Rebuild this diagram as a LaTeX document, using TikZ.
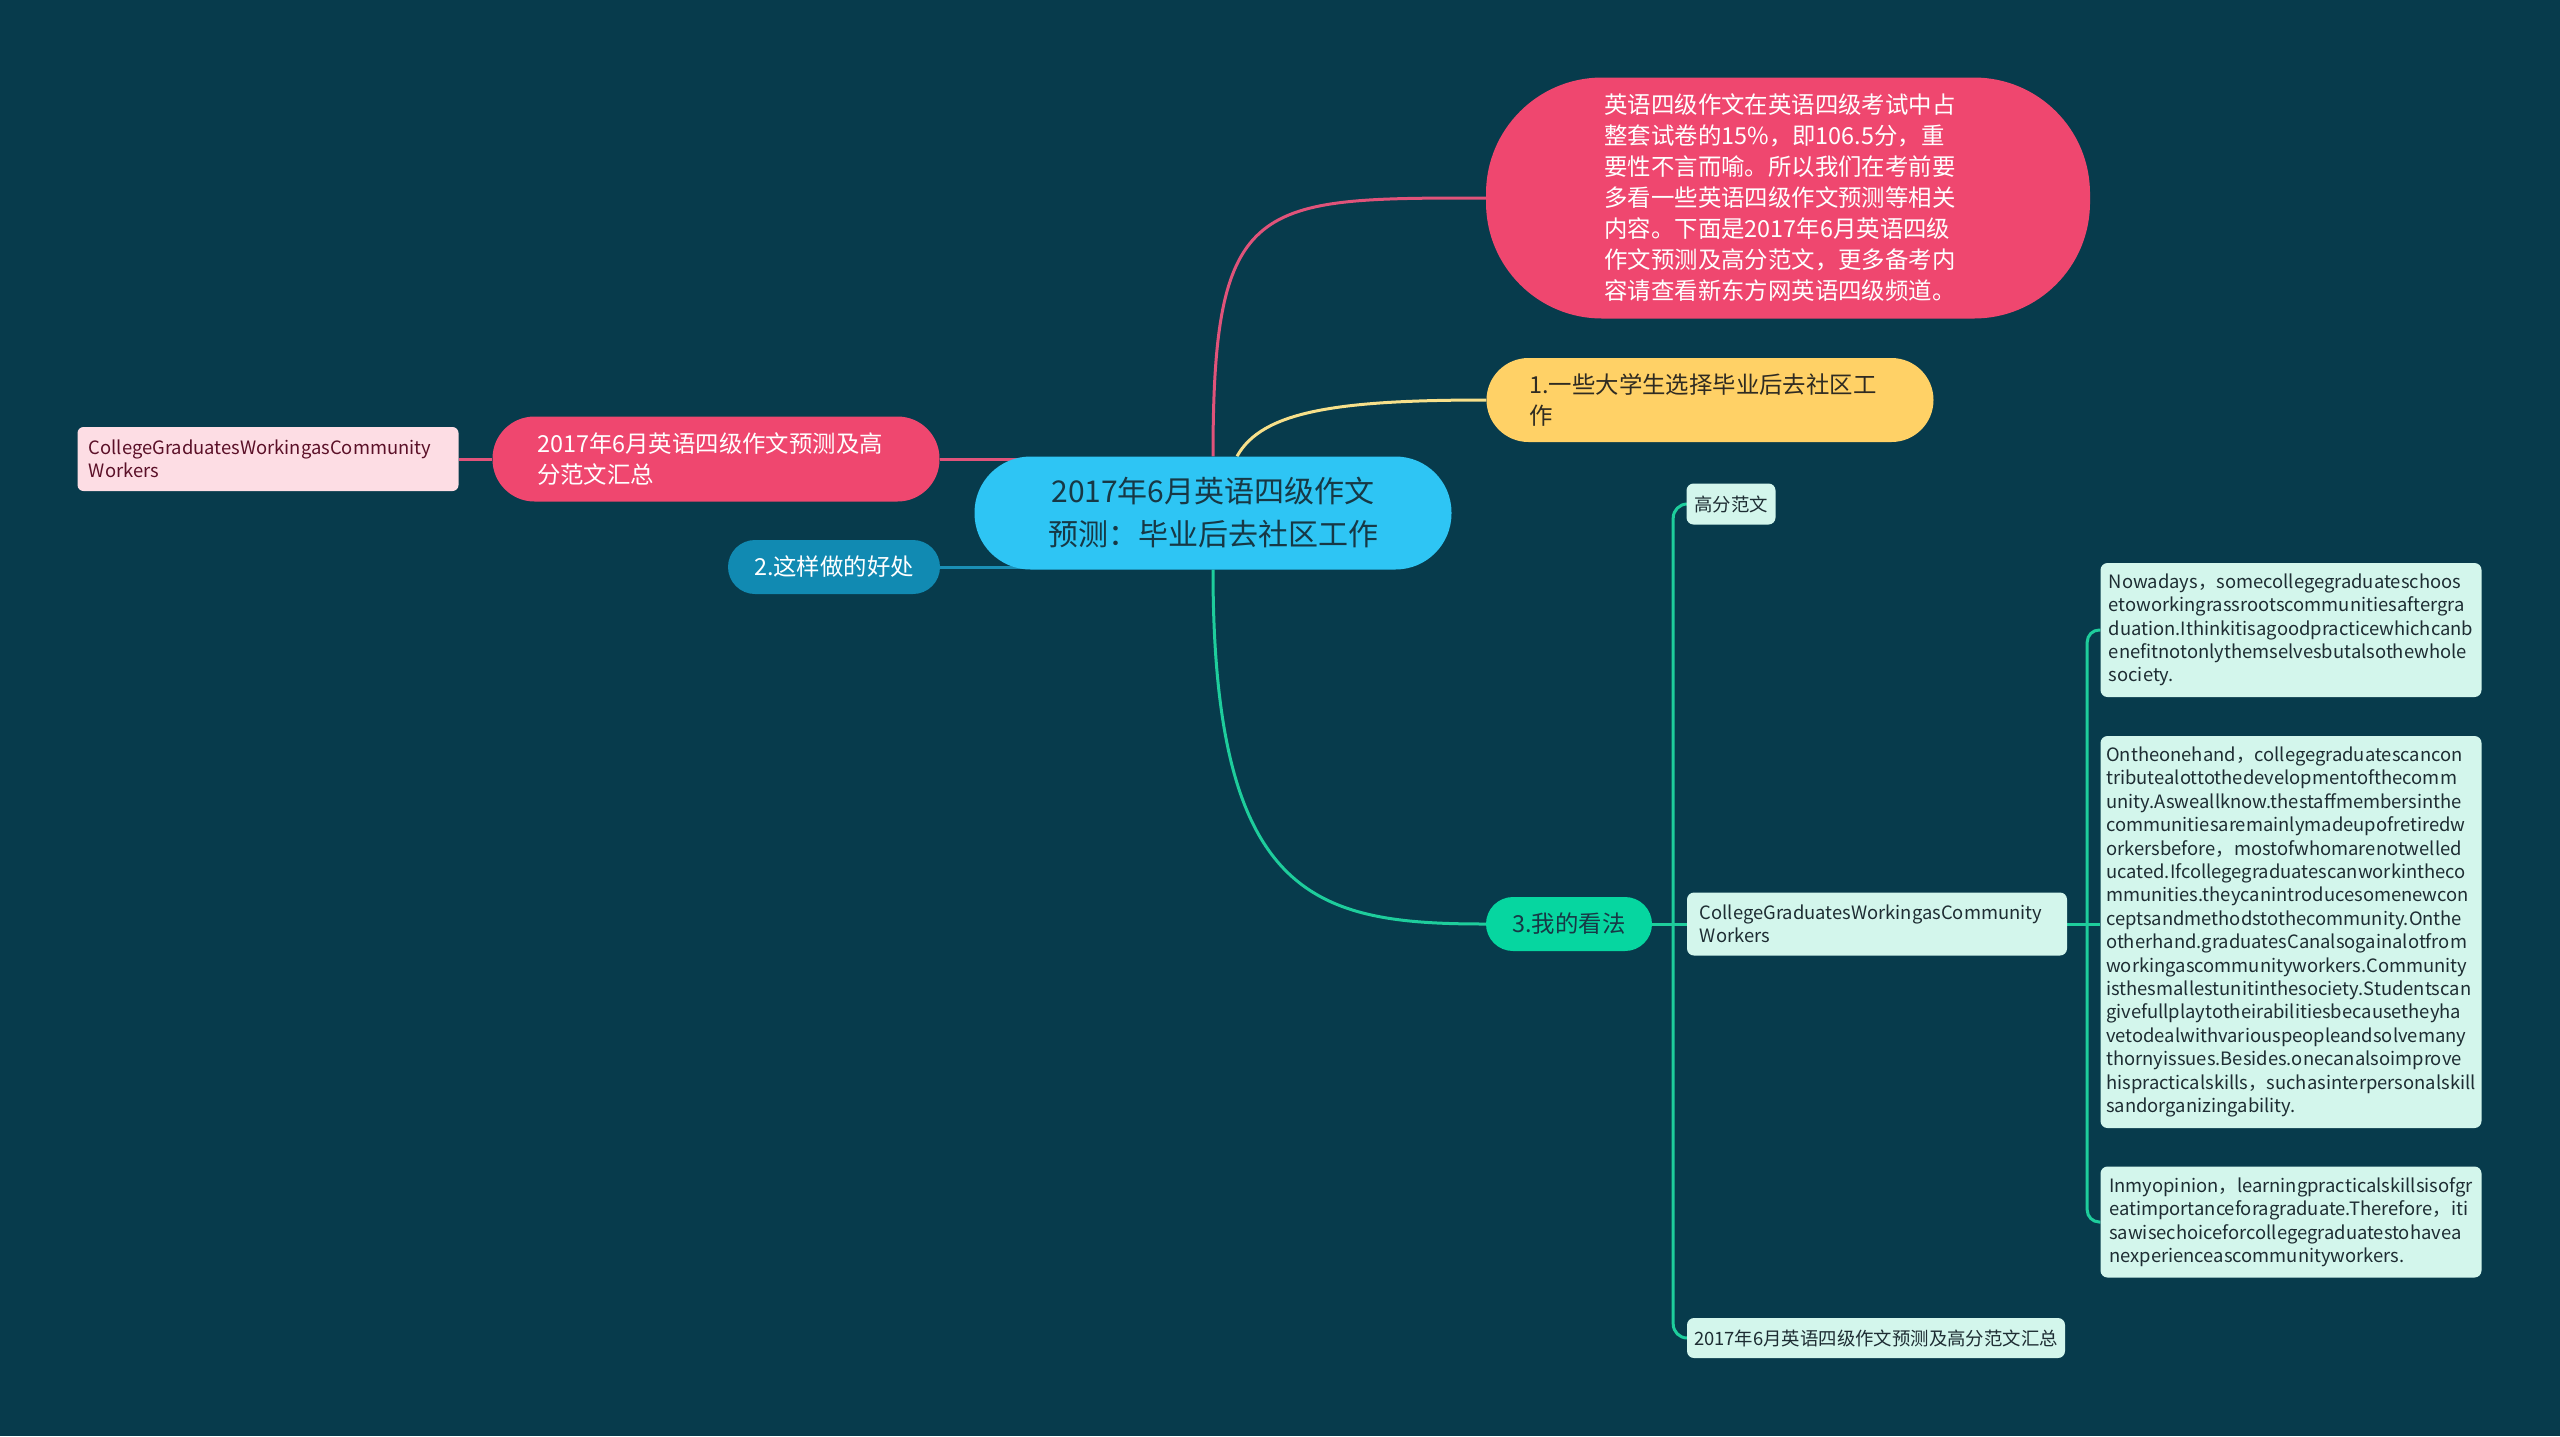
\documentclass[tikz,border=0pt]{standalone}
\usepackage{fontspec}
\newfontfamily\cjk{Noto Sans CJK SC}
\usetikzlibrary{backgrounds}
\definecolor{bg}{HTML}{073B4C}
\definecolor{pinkc}{HTML}{EF476F}
\definecolor{plinec}{HTML}{E0537A}
\definecolor{yellowc}{HTML}{FFD166}
\definecolor{ylinec}{HTML}{F7E08A}
\definecolor{greenc}{HTML}{06D6A0}
\definecolor{glinec}{HTML}{1ECD9C}
\definecolor{bluec}{HTML}{118AB2}
\definecolor{blinec}{HTML}{1A8FB5}
\definecolor{rootc}{HTML}{2EC5F4}
\definecolor{mint}{HTML}{D3F6EC}
\definecolor{lpinkc}{HTML}{FDDDE4}
\definecolor{roottext}{HTML}{173845}
\definecolor{darktext}{HTML}{1E2D33}
\definecolor{ytext}{HTML}{2F2B22}
\definecolor{lboxtext}{HTML}{5B1028}
\tikzset{
  box/.style={rectangle, inner sep=0pt, align=left, font=\cjk},
  bigfont/.style={font=\cjk\fontsize{23.4}{31}\selectfont},
  smallfont/.style={font=\cjk\fontsize{18.4}{23.4}\selectfont},
  rootbox/.style={box, fill=rootc, rounded corners=56, minimum width=477, minimum height=113, align=center, text=roottext, font=\cjk\fontsize{30}{43}\selectfont},
  pinkbox/.style={box, fill=pinkc, text=white, bigfont},
  mintbox/.style={box, fill=mint, rounded corners=7, text=darktext, smallfont},
  conn/.style={line width=3pt},
}
\begin{document}
\begin{tikzpicture}[x=1pt,y=-1pt]
\useasboundingbox (0,0) rectangle (2560,1436);
% nodes
\node[rootbox] (root) at (1213,513) {2017年6月英语四级作文\\预测：毕业后去社区工作};
\node[pinkbox, rounded corners=116, minimum width=604, minimum height=241] (intro) at (1788,198)
 {英语四级作文在英语四级考试中占\hspace*{16pt}\\整套试卷的15\%，即106.5分，重\\要性不言而喻。所以我们在考前要\\多看一些英语四级作文预测等相关\\内容。下面是2017年6月英语四级\\作文预测及高分范文，更多备考内\\容请查看新东方网英语四级频道。};
\node[box, bigfont, fill=yellowc, text=ytext, rounded corners=42, minimum width=447, minimum height=84] (yellow) at (1710,400)
 {1.一些大学生选择毕业后去社区工\hspace*{14pt}\\作};
\node[pinkbox, rounded corners=42, minimum width=447, minimum height=85] (lpink) at (716,459)
 {2017年6月英语四级作文预测及高\hspace*{12pt}\\分范文汇总};
\node[box, smallfont, fill=lpinkc, text=lboxtext, rounded corners=6, minimum width=381, minimum height=64] (lbox) at (268,459)
 {CollegeGraduatesWorkingasCommunity\hspace*{16pt}\\Workers};
\node[box, bigfont, fill=bluec, text=white, rounded corners=27, minimum width=212, minimum height=54, align=center] (blue) at (834,567)
 {2.这样做的好处};
\node[box, bigfont, fill=greenc, text=roottext, rounded corners=27, minimum width=166, minimum height=54, align=center] (green) at (1569,924)
 {3.我的看法};
\node[mintbox, minimum width=89, minimum height=41, align=center] (gaofen) at (1731,504) {高分范文};
\node[mintbox, minimum width=380, minimum height=63] (cg) at (1877,924)
 {CollegeGraduatesWorkingasCommunity\hspace*{12pt}\\Workers};
\node[mintbox, minimum width=378, minimum height=40, align=center] (huizong) at (1876,1338)
 {2017年6月英语四级作文预测及高分范文汇总};
\node[mintbox, minimum width=381, minimum height=134] (now) at (2291,630)
 {Nowadays，somecollegegraduateschoos\\etoworkingrassrootscommunitiesaftergra\\duation.Ithinkitisagoodpracticewhichcanb\\enefitnotonlythemselvesbutalsothewhole\\society.};
\node[mintbox, minimum width=381, minimum height=392] (onth) at (2291,932)
 {Ontheonehand，collegegraduatescancon\\tributealottothedevelopmentofthecomm\\unity.Asweallknow.thestaffmembersinthe\\communitiesaremainlymadeupofretiredw\\orkersbefore，mostofwhomarenotwelled\\ucated.Ifcollegegraduatescanworkintheco\\mmunities.theycanintroducesomenewcon\\ceptsandmethodstothecommunity.Onthe\\otherhand.graduatesCanalsogainalotfrom\\workingascommunityworkers.Community\\isthesmallestunitinthesociety.Studentscan\\givefullplaytotheirabilitiesbecausetheyha\\vetodealwithvariouspeopleandsolvemany\\thornyissues.Besides.onecanalsoimprove\\hispracticalskills，suchasinterpersonalskill\\sandorganizingability.};
\node[mintbox, minimum width=381, minimum height=111] (inmy) at (2291,1222)
 {Inmyopinion，learningpracticalskillsisofgr\\eatimportanceforagraduate.Therefore，iti\\sawisechoiceforcollegegraduatestohavea\\nexperienceascommunityworkers.};
\coordinate (gT) at ([xshift=21pt]green.east);
\coordinate (rT) at ([xshift=20pt]cg.east);
% background and connectors
\begin{scope}[on background layer]
\fill[bg] (0,0) rectangle (2560,1436);
\draw[conn, plinec] (root.north) .. controls +(0,-259) and +(-230,0) .. (intro.west);
\draw[conn, ylinec] ([xshift=24pt]root.north) .. controls +(25,-45) and +(-150,0) .. (yellow.west);
\draw[conn, glinec] (root.south) .. controls +(0,330) and +(-170,0) .. (green.west);
\draw[conn, plinec] (lpink.east) -- ([xshift=-120pt]root.center |- lpink.east);
\draw[conn, plinec] (lbox.east) -- (lpink.west);
\draw[conn, blinec] (blue.east) -- ([xshift=-120pt]root.center |- blue.east);
\draw[conn, glinec] (green.east) -- (cg.west);
\draw[conn, glinec, rounded corners=14pt] (gT) |- (gaofen.west);
\draw[conn, glinec, rounded corners=14pt] (gT) |- (huizong.west);
\draw[conn, glinec] (cg.east) -- (onth.west |- cg.east);
\draw[conn, glinec, rounded corners=12pt] (rT) |- (now.west);
\draw[conn, glinec, rounded corners=12pt] (rT) |- (inmy.west);
\end{scope}
\end{tikzpicture}
\end{document}
